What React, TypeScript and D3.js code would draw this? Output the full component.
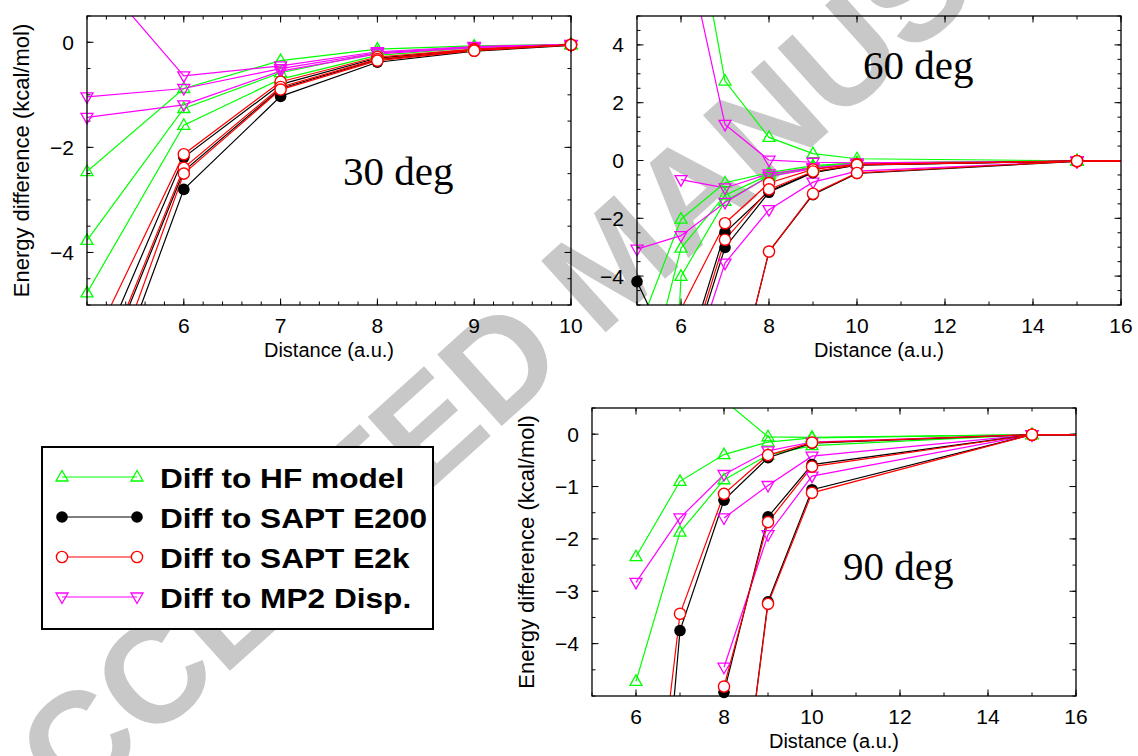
import React from 'react';
import * as d3 from 'd3';

const W = 1138;
const H = 756;

// ---- 30 deg ----
const dist30 = [5, 6, 7, 8, 9, 10];
const hf30 = [
  [-2.46, -0.88, -0.35, -0.13, -0.07, -0.04],
  [-3.77, -1.26, -0.58, -0.2, -0.09, -0.05],
  [-4.77, -1.58, -0.7, -0.25, -0.1, -0.05],
];
const e200_30 = [
  [-6.5, -2.19, -0.8, -0.3, -0.14, -0.05],
  [-7.0, -2.45, -0.88, -0.33, -0.15, -0.05],
  [-7.8, -2.8, -1.03, -0.38, -0.17, -0.06],
];
const e2k_30 = [
  [-5.96, -2.13, -0.75, -0.28, -0.13, -0.05],
  [-6.9, -2.39, -0.85, -0.32, -0.14, -0.05],
  [-7.6, -2.5, -0.9, -0.35, -0.16, -0.05],
];
const mp2_30 = [
  [1.5, -0.64, -0.45, -0.18, -0.08, -0.04],
  [-1.04, -0.88, -0.5, -0.2, -0.09, -0.05],
  [-1.43, -1.19, -0.55, -0.22, -0.1, -0.05],
];

// ---- 60 deg ----
const dist60 = [5, 6, 7, 8, 9, 10, 15, 20];
const hf60 = [
  [null, 11.1, 2.75, 0.8, 0.24, 0.06, -0.01, 0],
  [-6.0, -2.03, -0.77, -0.42, -0.18, -0.08, -0.02, 0],
  [-9.0, -3.03, -1.2, -0.5, -0.22, -0.1, -0.02, 0],
  [-35, -4.01, -1.41, -0.55, -0.25, -0.1, -0.02, 0],
];
const e200_60 = [
  [-4.19, -7.4, -2.49, -1.06, -0.4, -0.15, -0.02, 0],
  [null, -7.86, -3.01, -1.1, -0.42, -0.16, -0.02, 0],
  [null, null, -9.3, -3.15, -1.18, -0.45, -0.03, 0],
];
const e2k_60 = [
  [null, -5.15, -2.17, -0.78, -0.31, -0.13, -0.02, 0],
  [null, -7.65, -2.74, -1.0, -0.38, -0.15, -0.02, 0],
  [null, null, -9.3, -3.15, -1.15, -0.43, -0.02, 0],
];
const mp2_60 = [
  [null, 8.2, 1.25, 0.01, -0.06, -0.08, -0.02, 0],
  [null, -0.66, -0.95, -0.46, -0.25, -0.12, -0.02, 0],
  [-3.07, -2.6, -1.45, -0.55, -0.28, -0.14, -0.02, 0],
  [null, -8.2, -3.55, -1.7, -0.75, -0.37, -0.02, 0],
];

// ---- 90 deg ----
const dist90 = [6, 7, 8, 9, 10, 15, 20];
const hf90 = [
  [null, null, 0.65, -0.05, -0.06, -0.01, 0],
  [-2.34, -0.9, -0.39, -0.15, -0.07, -0.01, 0],
  [-4.72, -1.87, -0.87, -0.4, -0.22, -0.01, 0],
];
const e200_90 = [
  [-13.4, -3.75, -1.26, -0.45, -0.17, -0.01, 0],
  [null, -25, -4.93, -1.58, -0.58, -0.01, 0],
  [null, null, -9.8, -3.2, -1.06, -0.01, 0],
];
const e2k_90 = [
  [-10.5, -3.43, -1.14, -0.4, -0.16, -0.01, 0],
  [null, -25, -4.82, -1.68, -0.62, -0.01, 0],
  [null, null, -9.8, -3.24, -1.12, -0.01, 0],
];
const mp2_90 = [
  [-2.83, -1.6, -0.77, -0.32, -0.15, -0.01, 0],
  [null, null, -1.6, -0.98, -0.42, -0.01, 0],
  [null, null, -4.45, -1.92, -0.8, -0.01, 0],
];

const xTicks30 = [6, 7, 8, 9, 10];
const yTicks30 = [0, -2, -4];
const xTicks60 = [6, 8, 10, 12, 14, 16];
const yTicks60 = [4, 2, 0, -2, -4];
const xTicks90 = [6, 8, 10, 12, 14, 16];
const yTicks90 = [0, -1, -2, -3, -4];

const legendLabels = ['Diff to HF model', 'Diff to SAPT E200', 'Diff to SAPT E2k', 'Diff to MP2 Disp.'];
const seriesKeys = ['hf', 'e200', 'e2k', 'mp2'];
const colors: any = { hf: '#00ff00', e200: '#000000', e2k: '#ff0000', mp2: '#ff00ff' };
// draw order
const drawOrder = ['hf', 'mp2', 'e200', 'e2k'];

const SANS = '"Liberation Sans", Arial, sans-serif';
const SERIF = '"Liberation Serif", "Times New Roman", serif';

const minus = (v: number) => (v < 0 ? '\u2212' + Math.abs(v) : String(v));

function Marker({ kind, x, y }: { kind: string; x: number; y: number }) {
  const c = colors[kind];
  if (kind === 'hf')
    return <path d={`M${x},${y - 6.5}L${x + 6},${y + 4}L${x - 6},${y + 4}Z`} fill="none" stroke={c} strokeWidth={1.3} />;
  if (kind === 'mp2')
    return <path d={`M${x},${y + 6.5}L${x + 6},${y - 4}L${x - 6},${y - 4}Z`} fill="none" stroke={c} strokeWidth={1.3} />;
  if (kind === 'e200') return <circle cx={x} cy={y} r={5.8} fill="#000" />;
  return <circle cx={x} cy={y} r={5.6} fill="#fff" stroke={c} strokeWidth={1.4} />;
}

function Panel(props: any) {
  const { id, frame, xDomain, yDomain, xTicks, yTicks, xMinorStep, yMinorStep, dist, curves, title, titlePos, yLabel } = props;
  const x = d3.scaleLinear().domain(xDomain).range([frame.left, frame.right]);
  const y = d3.scaleLinear().domain(yDomain).range([frame.bottom, frame.top]);
  const line = d3
    .line<[number, number | null]>()
    .defined((d) => d[1] != null)
    .x((d) => x(d[0]))
    .y((d) => y(d[1] as number));

  const xMinor = d3.range(xDomain[0], xDomain[1] + 1e-6, xMinorStep);
  const yMinor = d3.range(yDomain[0], yDomain[1] + 1e-6, yMinorStep);
  const eps = 1e-6;

  return (
    <g>
      <defs>
        <clipPath id={id}>
          <rect x={frame.left} y={frame.top} width={frame.right - frame.left} height={frame.bottom - frame.top} />
        </clipPath>
      </defs>
      {/* ticks, mirrored on all sides */}
      <g stroke="#000" strokeWidth={1}>
        {xMinor.map((v: number, i: number) => (
          <g key={'xm' + i}>
            <line x1={x(v)} x2={x(v)} y1={frame.bottom} y2={frame.bottom - 3.5} />
            <line x1={x(v)} x2={x(v)} y1={frame.top} y2={frame.top + 3.5} />
          </g>
        ))}
        {xTicks.map((v: number) => (
          <g key={'xM' + v}>
            <line x1={x(v)} x2={x(v)} y1={frame.bottom} y2={frame.bottom - 6.5} />
            <line x1={x(v)} x2={x(v)} y1={frame.top} y2={frame.top + 6.5} />
          </g>
        ))}
        {yMinor.map((v: number, i: number) => (
          <g key={'ym' + i}>
            <line x1={frame.left} x2={frame.left + 3.5} y1={y(v)} y2={y(v)} />
            <line x1={frame.right} x2={frame.right - 3.5} y1={y(v)} y2={y(v)} />
          </g>
        ))}
        {yTicks.map((v: number) => (
          <g key={'yM' + v}>
            <line x1={frame.left} x2={frame.left + 6.5} y1={y(v)} y2={y(v)} />
            <line x1={frame.right} x2={frame.right - 6.5} y1={y(v)} y2={y(v)} />
          </g>
        ))}
      </g>
      <g fontFamily={SANS} fontSize={21} fill="#000">
        {xTicks.map((v: number) => (
          <text key={'xl' + v} x={x(v)} y={frame.bottom + 28} textAnchor="middle">
            {minus(v)}
          </text>
        ))}
        {yTicks.map((v: number) => (
          <text key={'yl' + v} x={frame.left - 13} y={y(v) + 7.5} textAnchor="end">
            {minus(v)}
          </text>
        ))}
        <text x={(frame.left + frame.right) / 2} y={frame.bottom + 52} textAnchor="middle" fontSize={20}>
          Distance (a.u.)
        </text>
        {yLabel && (
          <text
            transform={`translate(${frame.left - 58},${(frame.top + frame.bottom) / 2}) rotate(-90)`}
            textAnchor="middle"
            fontSize={22}
          >
            Energy difference (kcal/mol)
          </text>
        )}
      </g>
      <g clipPath={`url(#${id})`}>
        {drawOrder.map((k) =>
          curves[k].map((c: (number | null)[], i: number) => (
            <path
              key={k + i}
              d={line(dist.map((d: number, j: number) => [d, c[j]]) as any) || ''}
              fill="none"
              stroke={colors[k]}
              strokeWidth={1.2}
            />
          ))
        )}
      </g>
      {drawOrder.map((k) =>
        curves[k].map((c: (number | null)[], i: number) =>
          dist.map((d: number, j: number) => {
            const v = c[j];
            if (v == null) return null;
            if (d < xDomain[0] - eps || d > xDomain[1] + eps || v < yDomain[0] - eps || v > yDomain[1] + eps) return null;
            return <Marker key={`${k}${i}-${j}`} kind={k} x={x(d)} y={y(v)} />;
          })
        )
      )}
      <rect
        x={frame.left}
        y={frame.top}
        width={frame.right - frame.left}
        height={frame.bottom - frame.top}
        fill="none"
        stroke="#000"
        strokeWidth={1.3}
      />
      <text x={titlePos[0]} y={titlePos[1]} fontFamily={SERIF} fontSize={41} fill="#000">
        {title}
      </text>
    </g>
  );
}

function Legend() {
  const box = { x: 42, y: 447, w: 391, h: 182 };
  const rows = d3.scaleLinear().domain([0, 3]).range([477, 597]);
  return (
    <g>
      <rect x={box.x} y={box.y} width={box.w} height={box.h} fill="#fff" stroke="#000" strokeWidth={2} />
      {seriesKeys.map((k, i) => (
        <g key={k}>
          <line x1={62} x2={137} y1={rows(i)} y2={rows(i)} stroke={colors[k]} strokeWidth={1.2} />
          <Marker kind={k} x={62} y={rows(i)} />
          <Marker kind={k} x={137} y={rows(i)} />
          <text
            transform={`translate(160,${rows(i) + 10.5}) scale(1.13,1)`}
            fontFamily={SANS}
            fontWeight="bold"
            fontSize={28}
            fill="#000"
          >
            {legendLabels[i]}
          </text>
        </g>
      ))}
    </g>
  );
}

export default function App() {
  return (
    <svg width={W} height={H} style={{ position: 'absolute', left: 0, top: 0, background: '#fff' }}>
      <rect width={W} height={H} fill="#fff" />
      <text
        transform="translate(645,297) rotate(-42)"
        textAnchor="middle"
        fontFamily={SANS}
        fontWeight="bold"
        fontSize={140}
        fill="#c8c8c8"
      >
        ACCEPTED MANUSCRIPT
      </text>
      <Panel
        id="clip30"
        frame={{ left: 87, top: 16, right: 571, bottom: 305 }}
        xDomain={[5, 10]}
        yDomain={[-5, 0.5]}
        xTicks={xTicks30}
        yTicks={yTicks30}
        xMinorStep={0.2}
        yMinorStep={0.5}
        dist={dist30}
        curves={{ hf: hf30, e200: e200_30, e2k: e2k_30, mp2: mp2_30 }}
        title="30 deg"
        titlePos={[343, 185]}
        yLabel
      />
      <Panel
        id="clip60"
        frame={{ left: 637, top: 16, right: 1121, bottom: 305 }}
        xDomain={[5, 16]}
        yDomain={[-5, 5]}
        xTicks={xTicks60}
        yTicks={yTicks60}
        xMinorStep={1}
        yMinorStep={0.5}
        dist={dist60}
        curves={{ hf: hf60, e200: e200_60, e2k: e2k_60, mp2: mp2_60 }}
        title="60 deg"
        titlePos={[863, 79]}
        yLabel={false}
      />
      <Panel
        id="clip90"
        frame={{ left: 592, top: 408, right: 1076, bottom: 696 }}
        xDomain={[5, 16]}
        yDomain={[-5, 0.5]}
        xTicks={xTicks90}
        yTicks={yTicks90}
        xMinorStep={1}
        yMinorStep={0.5}
        dist={dist90}
        curves={{ hf: hf90, e200: e200_90, e2k: e2k_90, mp2: mp2_90 }}
        title="90 deg"
        titlePos={[843, 580]}
        yLabel
      />
      <Legend />
    </svg>
  );
}
